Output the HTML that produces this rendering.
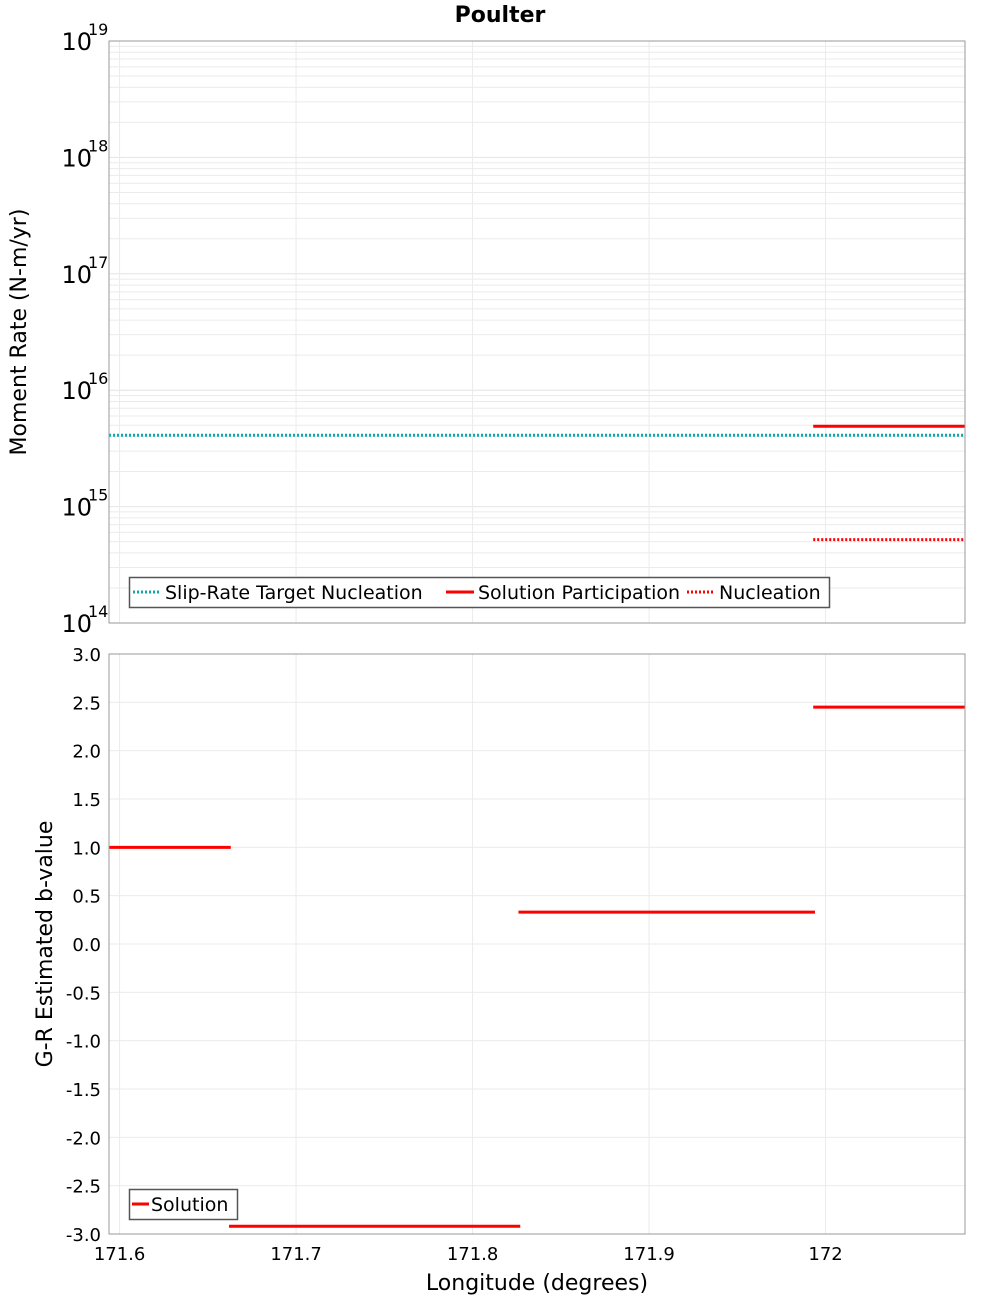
<!DOCTYPE html>
<html><head><meta charset="utf-8">
<style>
html,body{margin:0;padding:0;background:#fff;}
svg{display:block;font-family:"DejaVu Sans","Liberation Sans",sans-serif;}
</style></head>
<body>
<svg id="chart" width="1000" height="1300" viewBox="0 0 1000 1300" xmlns="http://www.w3.org/2000/svg">
<text x="500" y="22" text-anchor="middle" font-size="22" font-weight="bold">Poulter</text>
<g id="topPanel"></g>
<g id="botPanel"></g>
<text transform="translate(26,332) rotate(-90)" text-anchor="middle" font-size="22">Moment Rate (N-m/yr)</text>
<text transform="translate(52,944) rotate(-90)" text-anchor="middle" font-size="22">G-R Estimated b-value</text>
<text x="537" y="1290" text-anchor="middle" font-size="22">Longitude (degrees)</text>
</svg>
<script>
const xTicks = [171.6, 171.7, 171.8, 171.9, 172.0];
const xTickLabels = ["171.6", "171.7", "171.8", "171.9", "172"];
const topDecades = [14, 15, 16, 17, 18, 19];
const slipTargetX = [171.594, 172.079];
const slipTargetY = [4.1e15, 4.1e15];
const partX = [171.993, 172.079];
const partY = [4.9e15, 4.9e15];
const nuclX = [171.993, 172.079];
const nuclY = [5.2e14, 5.2e14];
const bStart = [171.594, 171.662, 171.826, 171.993];
const bEnd = [171.663, 171.827, 171.994, 172.079];
const bValues = [1.0, -2.92, 0.33, 2.45];
const bTicks = [3.0, 2.5, 2.0, 1.5, 1.0, 0.5, 0.0, -0.5, -1.0, -1.5, -2.0, -2.5, -3.0];

const NS = "http://www.w3.org/2000/svg";
const L = 109, R = 965;
const xmin = 171.594, xmax = 172.079;
const X = v => L + (v - xmin) / (xmax - xmin) * (R - L);
const T0 = 41, T1 = 623;
const YT = v => T1 - (Math.log10(v) - 14) / 5 * (T1 - T0);
const B0 = 654, B1 = 1234;
const YB = v => B0 + (3 - v) / 6 * (B1 - B0);

function mk(tag, attrs, parent, txt) {
  const e = document.createElementNS(NS, tag);
  for (const k in attrs) e.setAttribute(k, attrs[k]);
  if (txt !== undefined) e.textContent = txt;
  parent.appendChild(e);
  return e;
}
const topG = document.getElementById('topPanel');
const botG = document.getElementById('botPanel');

for (let d = 14; d < 19; d++) {
  for (let m = 2; m <= 9; m++) {
    const g = mk('line', {x1: L, x2: R, y1: YT(m * Math.pow(10, d)), y2: YT(m * Math.pow(10, d)), stroke: '#ebebeb', 'stroke-width': 1}, topG);
    
    
  }
}
topDecades.forEach(d => {
  const g = mk('line', {x1: L, x2: R, y1: YT(Math.pow(10, d)), y2: YT(Math.pow(10, d)), stroke: '#e4e4e4', 'stroke-width': 1}, topG);
  
  
  const t = mk('text', {x: 92, y: YT(Math.pow(10, d)) + 9, 'text-anchor': 'end', 'font-size': 24}, topG, '10');
  
  
  const s = mk('text', {x: 88, y: YT(Math.pow(10, d)) - 6, 'font-size': 16}, topG, String(d));
  
  
});
xTicks.forEach(v => {
  const g = mk('line', {x1: X(v), x2: X(v), y1: T0, y2: T1, stroke: '#ebebeb', 'stroke-width': 1}, topG);
  
  
  const g2 = mk('line', {x1: X(v), x2: X(v), y1: B0, y2: B1, stroke: '#ebebeb', 'stroke-width': 1}, botG);
  
  
});
bTicks.forEach(v => {
  const g = mk('line', {x1: L, x2: R, y1: YB(v), y2: YB(v), stroke: '#ebebeb', 'stroke-width': 1}, botG);
  
  
  const t = mk('text', {x: 101, y: YB(v) + 7, 'text-anchor': 'end', 'font-size': 18}, botG, v.toFixed(1));
  
  
});
xTicks.forEach((v, i) => {
  const t = mk('text', {x: X(v), y: 1260, 'text-anchor': 'middle', 'font-size': 18}, botG, xTickLabels[i]);
  
  
});

const s1 = mk('line', {x1: X(slipTargetX[0]), x2: X(slipTargetX[1]), y1: YT(slipTargetY[0]), y2: YT(slipTargetY[1]), stroke: '#10aaaa', 'stroke-width': 3, 'stroke-dasharray': '2,2'}, topG);


const s2 = mk('line', {x1: X(partX[0]), x2: X(partX[1]), y1: YT(partY[0]), y2: YT(partY[1]), stroke: '#ff0000', 'stroke-width': 3}, topG);


const s3 = mk('line', {x1: X(nuclX[0]), x2: X(nuclX[1]), y1: YT(nuclY[0]), y2: YT(nuclY[1]), stroke: '#ff0000', 'stroke-width': 3, 'stroke-dasharray': '2,2'}, topG);



bValues.forEach((v, i) => {
  const l = mk('line', {x1: X(bStart[i]), x2: X(bEnd[i]), y1: YB(v), y2: YB(v), stroke: '#ff0000', 'stroke-width': 3}, botG);
  
  
});

const f1 = mk('rect', {x: L, y: T0, width: R - L, height: T1 - T0, fill: 'none', stroke: '#999', 'stroke-width': 1}, topG);


const f2 = mk('rect', {x: L, y: B0, width: R - L, height: B1 - B0, fill: 'none', stroke: '#999', 'stroke-width': 1}, botG);



const lg = mk('g', {}, topG);


mk('rect', {x: 129.5, y: 577.5, width: 700, height: 30, fill: '#fff', stroke: '#555', 'stroke-width': 1.5}, lg);
const items = [
  {x: 133, label: 'Slip-Rate Target Nucleation', c: '#10aaaa', dash: '2,2', name: 'legend-slip-rate-target'},
  {x: 446, label: 'Solution Participation', c: '#ff0000', dash: '', name: 'legend-solution-participation'},
  {x: 687, label: 'Nucleation', c: '#ff0000', dash: '2,2', name: 'legend-nucleation'}
];
items.forEach(it => {
  const g = mk('g', {}, lg);
  
  
  const a = {x1: it.x, x2: it.x + 28, y1: 592, y2: 592, stroke: it.c, 'stroke-width': 3};
  if (it.dash) a['stroke-dasharray'] = it.dash;
  mk('line', a, g);
  mk('text', {x: it.x + 32, y: 599, 'font-size': 19}, g, it.label);
});
const lg2 = mk('g', {}, botG);


mk('rect', {x: 129.5, y: 1189.5, width: 108, height: 30, fill: '#fff', stroke: '#555', 'stroke-width': 1.5}, lg2);
mk('line', {x1: 132, x2: 149, y1: 1204, y2: 1204, stroke: '#ff0000', 'stroke-width': 3}, lg2);
mk('text', {x: 151, y: 1211, 'font-size': 19}, lg2, 'Solution');
</script>
</body></html>
